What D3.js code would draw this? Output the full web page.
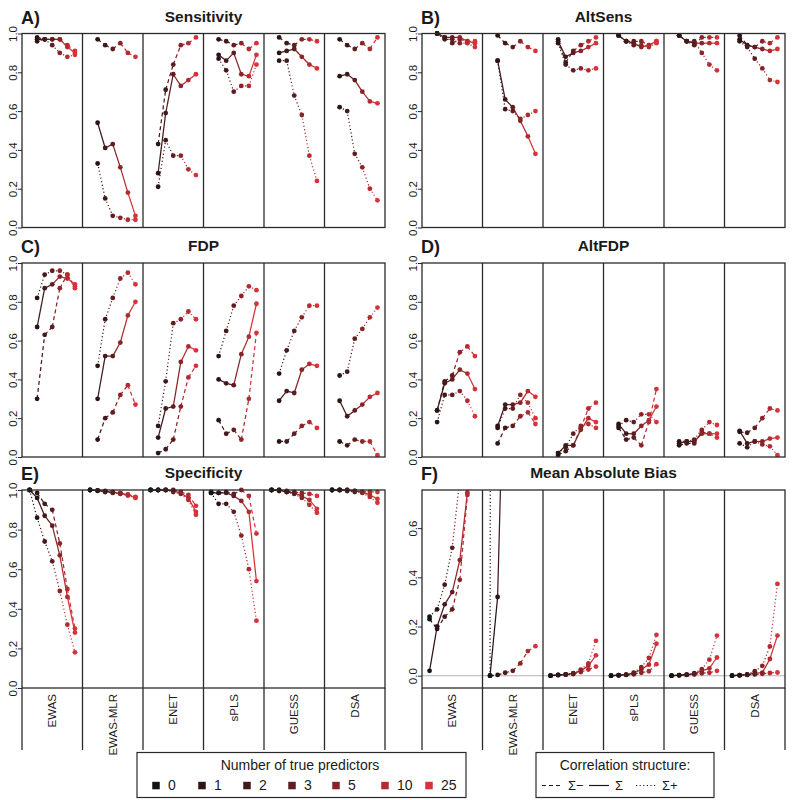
<!DOCTYPE html>
<html><head><meta charset="utf-8">
<script src="https://cdn.jsdelivr.net/npm/d3@7"></script>
<style>body{margin:0;background:#fff} text{font-family:"Liberation Sans",Arial,Helvetica,sans-serif;fill:#1a1a1a}</style>
</head><body><svg id="c" width="800" height="800"></svg>
<script>
const methods = ["EWAS","EWAS-MLR","ENET","sPLS","GUESS","DSA"];
const predictors = [0,1,2,3,5,10,25];
const structures = ["Σ−","Σ","Σ+"];
const predictorColors = ["#141414","#2a1415","#421a1c","#5e1e21","#8a2428","#b12c30","#d5333a"];
const ticks01 = [0,0.2,0.4,0.6,0.8,1.0];
const ticksBias = [0,0.2,0.4,0.6];

// values per method: [Σ−, Σ, Σ+]; A–D: predictors 1..25, E–F: predictors 0..25
const sensitivity = [
  [[0.98,0.97,0.97,0.97,0.94,0.91],[0.97,0.97,0.97,0.97,0.93,0.90],[0.96,0.97,0.94,0.90,0.88,0.89]],
  [[0.97,0.94,0.92,0.95,0.90,0.88],[0.54,0.41,0.43,0.31,0.18,0.06],[0.33,0.15,0.06,0.05,0.04,0.04]],
  [[0.43,0.71,0.84,0.94,0.95,0.98],[0.28,0.59,0.79,0.73,0.76,0.79],[0.21,0.45,0.37,0.37,0.30,0.27]],
  [[0.97,0.96,0.94,0.95,0.92,0.95],[0.89,0.86,0.90,0.79,0.78,0.89],[0.87,0.81,0.70,0.73,0.73,0.84]],
  [[0.98,0.95,0.94,0.97,0.97,0.96],[0.90,0.91,0.92,0.88,0.84,0.82],[0.86,0.86,0.68,0.58,0.37,0.24]],
  [[0.97,0.94,0.92,0.95,0.92,0.98],[0.78,0.79,0.76,0.70,0.65,0.64],[0.62,0.60,0.38,0.31,0.20,0.14]]
];
const altSens = [
  [[1.0,0.98,0.95,0.97,0.96,0.96],[1.0,0.98,0.98,0.98,0.96,0.95],[1.0,0.97,0.97,0.95,0.95,0.93]],
  [[0.99,0.95,0.93,0.96,0.93,0.91],[0.86,0.66,0.62,0.55,0.47,0.38],[0.86,0.61,0.60,0.56,0.58,0.60]],
  [[0.97,0.85,0.91,0.94,0.96,0.98],[0.96,0.88,0.90,0.91,0.93,0.95],[0.95,0.84,0.81,0.82,0.81,0.82]],
  [[0.99,0.96,0.96,0.96,0.94,0.96],[0.99,0.96,0.95,0.93,0.94,0.96],[0.99,0.96,0.94,0.94,0.93,0.95]],
  [[0.99,0.96,0.94,0.98,0.98,0.98],[0.99,0.96,0.95,0.95,0.95,0.95],[0.99,0.96,0.96,0.90,0.84,0.81]],
  [[0.99,0.94,0.93,0.96,0.95,0.98],[0.97,0.94,0.93,0.92,0.91,0.92],[0.96,0.93,0.87,0.82,0.76,0.75]]
];
const fdp = [
  [[0.30,0.63,0.67,0.87,0.94,0.87],[0.67,0.87,0.89,0.93,0.92,0.89],[0.82,0.94,0.96,0.96,0.94,0.88]],
  [[0.09,0.20,0.23,0.32,0.37,0.27],[0.30,0.52,0.52,0.59,0.73,0.80],[0.47,0.71,0.82,0.92,0.95,0.89]],
  [[0.02,0.04,0.09,0.26,0.41,0.47],[0.10,0.25,0.26,0.49,0.57,0.55],[0.16,0.39,0.69,0.71,0.75,0.71]],
  [[0.19,0.12,0.14,0.09,0.30,0.64],[0.40,0.38,0.37,0.53,0.62,0.79],[0.52,0.65,0.78,0.83,0.88,0.86]],
  [[0.08,0.08,0.12,0.16,0.18,0.15],[0.29,0.34,0.33,0.45,0.48,0.47],[0.43,0.55,0.65,0.72,0.78,0.78]],
  [[0.08,0.06,0.09,0.08,0.08,0.01],[0.29,0.21,0.24,0.27,0.31,0.33],[0.42,0.44,0.61,0.66,0.72,0.77]]
];
const altFdp = [
  [[0.24,0.39,0.42,0.54,0.57,0.52],[0.24,0.38,0.40,0.45,0.43,0.35],[0.18,0.32,0.32,0.34,0.29,0.21]],
  [[0.07,0.15,0.16,0.21,0.23,0.17],[0.16,0.27,0.27,0.28,0.34,0.31],[0.15,0.25,0.25,0.32,0.28,0.20]],
  [[0.01,0.03,0.06,0.15,0.25,0.28],[0.02,0.06,0.06,0.14,0.20,0.18],[0.02,0.05,0.12,0.16,0.17,0.15]],
  [[0.15,0.09,0.10,0.06,0.18,0.35],[0.17,0.12,0.12,0.16,0.19,0.26],[0.16,0.19,0.18,0.22,0.22,0.18]],
  [[0.06,0.07,0.07,0.13,0.12,0.10],[0.07,0.08,0.08,0.12,0.12,0.12],[0.08,0.08,0.09,0.14,0.18,0.165]],
  [[0.13,0.125,0.15,0.20,0.25,0.24],[0.135,0.07,0.08,0.08,0.095,0.10],[0.07,0.05,0.08,0.065,0.055,0.01]]
];
const specificity = [
  [[1.0,0.985,0.93,0.90,0.73,0.50,0.30],[1.0,0.96,0.87,0.82,0.67,0.46,0.28],[1.0,0.86,0.74,0.64,0.49,0.32,0.18]],
  [[1.0,0.998,0.995,0.99,0.985,0.978,0.965],[1.0,0.997,0.993,0.988,0.983,0.975,0.962],[1.0,0.996,0.99,0.985,0.98,0.972,0.96]],
  [[1.0,1.0,1.0,1.0,0.99,0.975,0.92],[1.0,1.0,1.0,0.995,0.985,0.96,0.89],[1.0,1.0,1.0,0.99,0.98,0.95,0.875]],
  [[0.99,0.985,0.99,0.98,1.0,0.97,0.78],[0.985,0.985,0.985,0.97,0.945,0.89,0.54],[0.985,0.93,0.93,0.89,0.77,0.60,0.34]],
  [[1.0,1.0,0.995,0.99,0.985,0.98,0.97],[1.0,1.0,0.99,0.985,0.97,0.95,0.905],[1.0,0.995,0.99,0.98,0.96,0.925,0.885]],
  [[1.0,1.0,1.0,0.995,0.99,0.99,0.99],[1.0,1.0,1.0,0.995,0.99,0.975,0.955],[1.0,1.0,0.995,0.99,0.985,0.965,0.935]]
];
const bias = [
  [[0.23,0.19,0.24,0.27,0.39,0.735,1.3],[0.02,0.20,0.29,0.34,0.47,0.745,1.4],[0.24,0.27,0.37,0.52,0.80,1.3,2.0]],
  [[0.0,0.003,0.012,0.02,0.05,0.10,0.12],[0.0,0.32,1.5,3.0,5.0,8.0,12.0],[0.0,30,40,50,60,70,80]],
  [[0.0,0.002,0.004,0.007,0.015,0.025,0.037],[0.0,0.003,0.005,0.008,0.02,0.04,0.083],[0.0,0.003,0.005,0.01,0.025,0.05,0.142]],
  [[0.0,0.001,0.003,0.006,0.012,0.018,0.047],[0.0,0.002,0.004,0.01,0.025,0.045,0.13],[0.0,0.002,0.004,0.012,0.035,0.072,0.166]],
  [[0.0,0.001,0.003,0.005,0.01,0.012,0.02],[0.0,0.002,0.004,0.008,0.02,0.03,0.074],[0.0,0.002,0.004,0.01,0.027,0.065,0.163]],
  [[0.0,0.001,0.003,0.005,0.008,0.011,0.013],[0.0,0.002,0.004,0.01,0.012,0.068,0.163],[0.0,0.002,0.005,0.018,0.04,0.119,0.373]]
];

const dashes = ["4,3", null, "1.2,2.4"];
const svg = d3.select("#c");

const panels = [
  {tag:"A)", title:"Sensitivity", data:sensitivity, x:22, top:33.5, bottom:227.5, dom:[0,1], start:1, ticks:ticks01, tb:24, clip:3},
  {tag:"B)", title:"AltSens", data:altSens, x:422, top:33.5, bottom:227.5, dom:[0,1], start:1, ticks:ticks01, tb:24, clip:3},
  {tag:"C)", title:"FDP", data:fdp, x:22, top:263, bottom:457, dom:[0,1], start:1, ticks:ticks01, tb:252.5, clip:3},
  {tag:"D)", title:"AltFDP", data:altFdp, x:422, top:263, bottom:457, dom:[0,1], start:1, ticks:ticks01, tb:252.5, clip:3},
  {tag:"E)", title:"Specificity", data:specificity, x:22, top:490, bottom:688, dom:[0,1], start:0, ticks:ticks01, tb:480, clip:3, labels:true},
  {tag:"F)", title:"Mean Absolute Bias", data:bias, x:422, top:490, bottom:688, dom:[-0.05,0.755], start:0, ticks:ticksBias, tb:480, clip:0, labels:true, zero:true}
];
const W = 363;

panels.forEach((p, pi) => {
  const g = svg.append("g");
  const band = d3.scaleBand().domain(methods).range([p.x, p.x + W]);
  const y = d3.scaleLinear().domain(p.dom).range([p.bottom, p.top]);
  const cid = "clip" + pi;
  svg.append("clipPath").attr("id", cid).append("rect")
    .attr("x", p.x).attr("y", p.top - p.clip).attr("width", W).attr("height", p.bottom - p.top + p.clip);

  if (p.zero) {
    g.append("line").attr("x1", p.x).attr("x2", p.x + W).attr("y1", y(0)).attr("y2", y(0))
      .attr("stroke", "#b3b3b3").attr("stroke-width", 1.1);
  }
  const marks = g.append("g").attr("clip-path", `url(#${cid})`);
  methods.forEach((m, mi) => {
    const xi = d3.scaleLinear().domain([-1, 7]).range([band(m), band(m) + band.bandwidth()]);
    structures.forEach((s, si) => {
      const pts = p.data[mi][si].map((v, k) => ({i: k + p.start, v}));
      for (let k = 1; k < pts.length; k++) {
        marks.append("line")
          .attr("x1", xi(pts[k-1].i)).attr("y1", y(pts[k-1].v))
          .attr("x2", xi(pts[k].i)).attr("y2", y(pts[k].v))
          .attr("stroke", predictorColors[pts[k].i]).attr("stroke-width", 1.25)
          .attr("stroke-dasharray", dashes[si]);
      }
    });
    structures.forEach((s, si) => {
      p.data[mi][si].forEach((v, k) => {
        const i = k + p.start;
        marks.append("circle").attr("cx", xi(i)).attr("cy", y(v)).attr("r", 2.4)
          .attr("fill", predictorColors[i]);
      });
    });
  });

  // box and column dividers
  const lowEnd = p.labels ? 750 : p.bottom;
  g.append("rect").attr("x", p.x).attr("y", p.top).attr("width", W).attr("height", p.bottom - p.top)
    .attr("fill", "none").attr("stroke", "#2a2a2a").attr("stroke-width", 1.3);
  methods.forEach((m, mi) => {
    if (mi > 0) g.append("line").attr("x1", band(m)).attr("x2", band(m)).attr("y1", p.top).attr("y2", lowEnd)
      .attr("stroke", "#2a2a2a").attr("stroke-width", 1.3);
  });
  if (p.labels) {
    [p.x, p.x + W].forEach(xx => g.append("line").attr("x1", xx).attr("x2", xx).attr("y1", p.bottom).attr("y2", lowEnd)
      .attr("stroke", "#2a2a2a").attr("stroke-width", 1.3));
    methods.forEach(m => {
      g.append("text").attr("transform", `translate(${band(m) + band.bandwidth()/2 + 4},694) rotate(-90)`)
        .attr("text-anchor", "end").attr("font-size", 11.5).text(m);
    });
  }

  // y axis
  const ax = g.append("g").attr("transform", `translate(${p.x},0)`)
    .call(d3.axisLeft(y).tickValues(p.ticks).tickSize(4).tickFormat(d3.format(".1f")));
  ax.select(".domain").remove();
  ax.selectAll(".tick line").attr("stroke", "#2a2a2a");
  ax.selectAll(".tick text").attr("x", null).attr("dy", null).attr("fill", "#1a1a1a")
    .attr("transform", "translate(-5.5,0) rotate(-90)").attr("text-anchor", "middle")
    .attr("font-size", 11.5).attr("font-family", "Liberation Sans, Arial, sans-serif");

  // tag and title
  g.append("text").attr("x", p.x - 1).attr("y", p.tb).attr("font-size", 18).attr("font-weight", "bold").text(p.tag);
  g.append("text").attr("x", p.x + W/2).attr("y", p.tb - 2).attr("text-anchor", "middle")
    .attr("font-size", 15.5).attr("font-weight", "bold").text(p.title);
});

// legend 1: number of true predictors
const sqX = [156, 202, 247, 292, 336, 385, 429];
const lg1 = svg.append("g");
lg1.append("rect").attr("x", 137).attr("y", 752.5).attr("width", 329).attr("height", 45)
  .attr("fill", "none").attr("stroke", "#2a2a2a").attr("stroke-width", 1.2);
lg1.append("text").attr("x", 300).attr("y", 769.5).attr("text-anchor", "middle").attr("font-size", 14)
  .text("Number of true predictors");
predictors.forEach((n, i) => {
  lg1.append("rect").attr("x", sqX[i] - 3.75).attr("y", 781.8).attr("width", 7.5).attr("height", 7.5).attr("fill", predictorColors[i]);
  lg1.append("text").attr("x", sqX[i] + 12).attr("y", 790).attr("font-size", 14).text(n);
});

// legend 2: correlation structure
const lg2 = svg.append("g");
lg2.append("rect").attr("x", 536).attr("y", 752.5).attr("width", 178).attr("height", 45)
  .attr("fill", "none").attr("stroke", "#2a2a2a").attr("stroke-width", 1.2);
lg2.append("text").attr("x", 625).attr("y", 769.5).attr("text-anchor", "middle").attr("font-size", 14)
  .text("Correlation structure:");
structures.forEach((s, i) => {
  const x0 = 542 + i * 47;
  lg2.append("line").attr("x1", x0).attr("x2", x0 + 20).attr("y1", 785.5).attr("y2", 785.5)
    .attr("stroke", "#1a1a1a").attr("stroke-width", 1.2).attr("stroke-dasharray", dashes[i]);
  lg2.append("text").attr("x", x0 + 26).attr("y", 790).attr("font-size", 13).text(s);
});
</script></body></html>
